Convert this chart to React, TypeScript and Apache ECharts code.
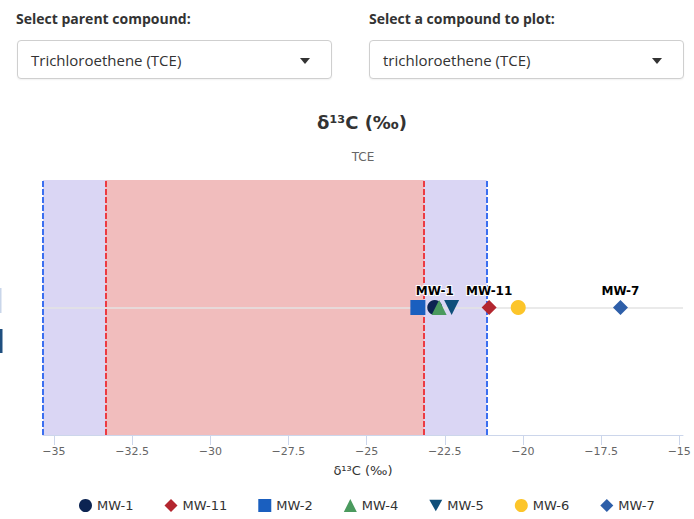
import React, { useEffect, useRef } from "react";
import * as echarts from "echarts";

const wells = ["MW-1", "MW-11", "MW-2", "MW-4", "MW-5", "MW-6", "MW-7"];
const d13C = [-22.82, -21.08, -23.36, -22.68, -22.28, -20.15, -16.88];
const wellColors = ["#0c2452", "#b3262f", "#1a5fbf", "#4a9a5e", "#0f4f7a", "#fcc52a", "#2e5fa9"];
const wellSymbols = ["circle", "diamond", "rect", "triangle", "path://M0,0L10,0L5,9Z", "circle", "diamond"];
const wellLabeled = [true, true, false, false, false, false, true];
const tickValues = [-35, -32.5, -30, -27.5, -25, -22.5, -20, -17.5, -15];
const outerBand = [-35.35, -21.16];
const innerBand = [-33.35, -23.17];
const axisRange = [-35.35, -14.88];

const FONT = "'DejaVu Sans', Verdana, sans-serif";

export default function App() {
  const ref = useRef<HTMLDivElement>(null);
  useEffect(() => {
    if (!ref.current) return;
    const chart = echarts.init(ref.current, undefined, { renderer: "svg" });
    const pointSeries = wells.map((name, i) => ({
      name,
      type: "scatter",
      z: 3,
      symbol: wellSymbols[i],
      symbolSize: 15,
      itemStyle: { color: wellColors[i], opacity: 1 },
      data: [[d13C[i], 0]],
      label: {
        show: wellLabeled[i],
        position: "top",
        distance: 3,
        formatter: name,
        color: "#000",
        fontWeight: "bold",
        fontSize: 12,
        fontFamily: FONT,
        textBorderColor: "#fff",
        textBorderWidth: 2,
      },
    }));
    chart.setOption({
      animation: false,
      backgroundColor: "transparent",
      textStyle: { fontFamily: FONT },
      title: [
        {
          text: "δ¹³C (‰)",
          left: 357,
          top: 108,
          textAlign: "center",
          textStyle: { fontSize: 18, fontWeight: "bold", color: "#333", fontFamily: FONT },
        },
        {
          text: "TCE",
          left: 358,
          top: 146,
          textAlign: "center",
          textStyle: { fontSize: 12, fontWeight: "normal", color: "#666", fontFamily: FONT },
        },
      ],
      legend: {
        data: wells,
        bottom: 2,
        left: 74,
        itemWidth: 13,
        itemHeight: 13,
        itemGap: 31,
        textStyle: { fontSize: 13, fontWeight: "normal", color: "#333", fontFamily: FONT },
      },
      grid: { left: 43, right: 11, top: 180, bottom: 84 },
      xAxis: {
        type: "value",
        min: axisRange[0],
        max: axisRange[1],
        name: "δ¹³C (‰)",
        nameLocation: "middle",
        nameGap: 29,
        nameTextStyle: { fontSize: 13, fontWeight: "normal", color: "#333", fontFamily: FONT },
        axisLine: { show: true, onZero: false, lineStyle: { color: "#ccd6eb", width: 1 } },
        axisTick: { show: true, length: 10, lineStyle: { color: "#ccd6eb" }, customValues: tickValues },
        axisLabel: {
          customValues: tickValues,
          color: "#666",
          fontSize: 11,
          margin: 11,
          fontFamily: FONT,
          formatter: (v: number) => String(v).replace("-", "\u2212"),
        },
        splitLine: { show: false },
      },
      yAxis: { type: "value", min: -1, max: 1, show: false },
      series: [
        {
          name: "bands",
          type: "line",
          z: 1,
          data: [],
          silent: true,
          markArea: {
            silent: true,
            z: 1,
            data: [
              [
                { xAxis: outerBand[0], itemStyle: { color: "#dad6f4" } },
                { xAxis: outerBand[1] },
              ],
              [
                { xAxis: innerBand[0], itemStyle: { color: "#f1bdbd" } },
                { xAxis: innerBand[1] },
              ],
            ],
          },
          markLine: {
            silent: true,
            z: 2,
            symbol: ["none", "none"],
            label: { show: false },
            data: [
              { yAxis: 0, lineStyle: { color: "#e3e3e3", type: "solid", width: 1.5 } },
              { xAxis: outerBand[0], lineStyle: { color: "#3b6ff0", type: [6, 2], width: 2 } },
              { xAxis: outerBand[1], lineStyle: { color: "#3b6ff0", type: [6, 2], width: 2 } },
              { xAxis: innerBand[0], lineStyle: { color: "#ec3b42", type: [6, 2], width: 2 } },
              { xAxis: innerBand[1], lineStyle: { color: "#ec3b42", type: [6, 2], width: 2 } },
            ],
          },
        },
        ...pointSeries,
      ],
      graphic: [
        { type: "rect", shape: { x: 0, y: 288, width: 1.5, height: 25 }, style: { fill: "#c9d6ea" } },
        { type: "rect", shape: { x: 0, y: 329, width: 2.5, height: 24 }, style: { fill: "#1f4f7f" } },
      ],
    });
    return () => chart.dispose();
  }, []);

  const labelStyle: React.CSSProperties = {
    position: "absolute",
    fontFamily: "'Open Sans', sans-serif",
    fontWeight: 700,
    fontSize: 14,
    color: "#333",
    top: 9,
    whiteSpace: "nowrap",
  };
  const boxStyle: React.CSSProperties = {
    position: "absolute",
    top: 40,
    height: 39,
    border: "1px solid #cfcfcf",
    borderRadius: 4,
    boxSizing: "border-box",
    boxShadow: "0 1px 2px rgba(0,0,0,0.06)",
    background: "#fff",
    fontFamily: "'Open Sans', sans-serif",
    fontSize: 15,
    color: "#333",
  };
  const textStyle: React.CSSProperties = { position: "absolute", left: 13, top: 9, whiteSpace: "nowrap" };
  const caret = (left: number): React.CSSProperties => ({
    position: "absolute",
    left,
    top: 17,
    width: 0,
    height: 0,
    borderLeft: "5px solid transparent",
    borderRight: "5px solid transparent",
    borderTop: "6px solid #333",
  });

  return (
    <div style={{ position: "absolute", left: 0, top: 0, width: 694, height: 519, background: "#fff", overflow: "hidden" }}>
      <div ref={ref} style={{ position: "absolute", left: 0, top: 0, width: 694, height: 519 }} />
      <div style={{ ...labelStyle, left: 16 }}>Select parent compound:</div>
      <div style={{ ...labelStyle, left: 369 }}>Select a compound to plot:</div>
      <div style={{ ...boxStyle, left: 17, width: 315 }}>
        <div style={textStyle}>Trichloroethene (TCE)</div>
        <div style={caret(282)} />
      </div>
      <div style={{ ...boxStyle, left: 369, width: 315 }}>
        <div style={textStyle}>trichloroethene (TCE)</div>
        <div style={caret(282)} />
      </div>
    </div>
  );
}
